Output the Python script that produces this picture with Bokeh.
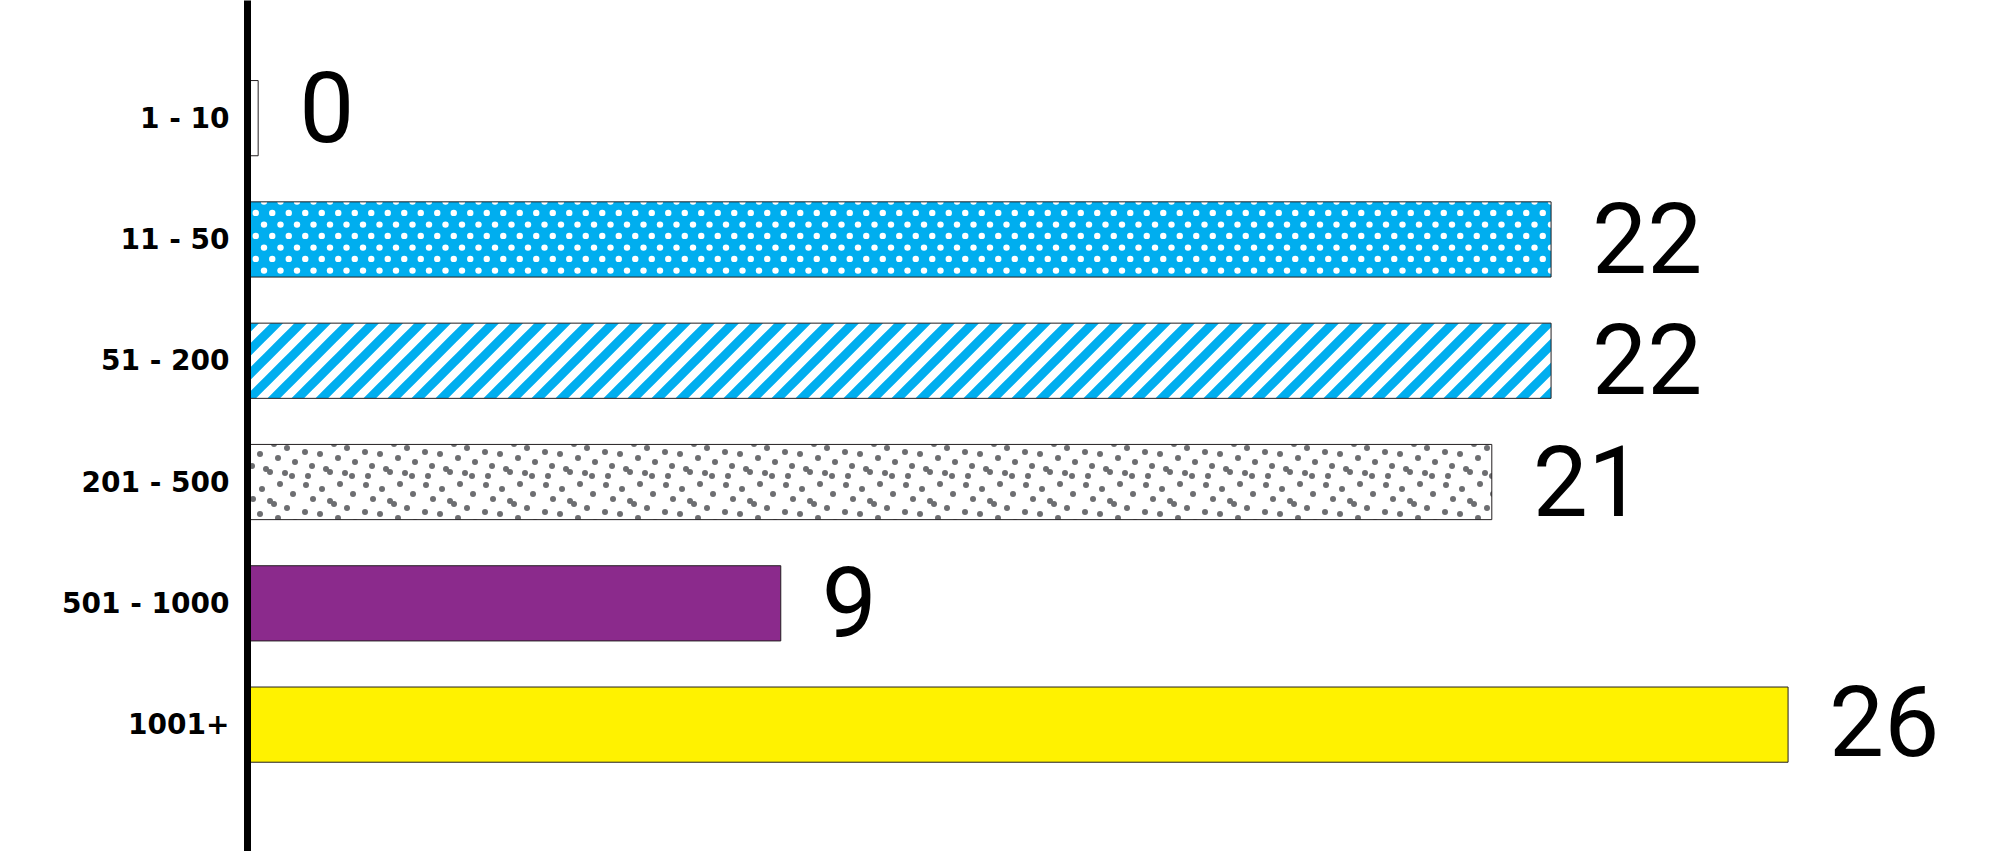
import base64
from bokeh.plotting import figure
from bokeh.models import Range1d, FixedTicker, ColumnDataSource, ImageURLTexture
from bokeh.core.properties import value
from bokeh.embed import file_html
from bokeh.resources import INLINE

# ---- data ----
categories = ["1 - 10", "11 - 50", "51 - 200", "201 - 500", "501 - 1000", "1001+"]
counts = [0, 22, 22, 21, 9, 26]

# ---- styles ----
fill_colors = ["#ffffff", "#00aeef", "#ffffff", "#ffffff", "#8b2a8c", "#fff200"]
hatch_patterns = [" ", "staggered_dots", "diag45", "scatter_dots", " ", " "]
label_y_offsets = [-12, -2, -2, -2, -2, -4]
MIN_VISIBLE = 0.18  # a zero bar is still drawn as a thin empty box


def svg_tile(w, h, body):
    svg = (f'<svg xmlns="http://www.w3.org/2000/svg" width="{w}" height="{h}" '
           f'viewBox="0 0 {w} {h}">{body}</svg>')
    return "data:image/svg+xml;base64," + base64.b64encode(svg.encode()).decode()


# texture tiles (styling only)
stripe_tile = svg_tile(24, 24,
    '<path d="M24,-24 L-24,24 M48,-24 L-24,48 M72,-24 L-24,72" '
    'stroke="#00aeef" stroke-width="9" fill="none"/>')
stag_dots = [(8.25, 5.9), (24.75, 5.9), (0, 17.6), (16.5, 17.6), (33, 17.6)]
stag_tile = svg_tile(33, 23.4, "".join(
    f'<circle cx="{x}" cy="{y}" r="3.2" fill="#ffffff"/>' for x, y in stag_dots))
scatter_dots = [(6, 5), (22, 9), (40, 4), (53, 14), (13, 19), (30, 21), (34, 24),
                (47, 28), (5, 32), (20, 34), (38, 38), (55, 42), (12, 46), (26, 49),
                (30, 52), (45, 53), (52, 56), (8, 56)]
scatter_tile = svg_tile(60, 60, "".join(
    f'<circle cx="{x}" cy="{y}" r="3" fill="#6d6e71"/>' for x, y in scatter_dots))

textures = {
    "staggered_dots": ImageURLTexture(url=stag_tile, repetition="repeat"),
    "diag45": ImageURLTexture(url=stripe_tile, repetition="repeat"),
    "scatter_dots": ImageURLTexture(url=scatter_tile, repetition="repeat"),
}

positions = list(range(len(categories)))
shown = [max(c, MIN_VISIBLE) for c in counts]

src = ColumnDataSource(dict(
    y=positions, right=shown, count=[str(c) for c in counts],
    fill=fill_colors, hp=hatch_patterns, yo=label_y_offsets,
))

W, H = 1992, 851
p = figure(width=W, height=H, output_backend="svg", toolbar_location=None,
           x_range=Range1d(0, 29.45), y_range=Range1d(6.046, -0.970),
           x_axis_location=None, min_border_left=247, min_border_right=0,
           min_border_top=0, min_border_bottom=0)
p.outline_line_color = None
p.xgrid.visible = False
p.ygrid.visible = False
p.background_fill_color = "white"
p.border_fill_color = "white"

p.hbar(y="y", left=0, right="right", height=0.62, source=src,
       fill_color="fill", line_color="#231f20", line_width=1,
       hatch_pattern="hp", hatch_extra=textures)

p.text(x="right", y="y", text="count", source=src, x_offset=41, y_offset="yo",
       text_font=value("Roboto"), text_font_size="98px",
       text_baseline="middle", text_align="left", text_color="#000000")

ax = p.yaxis[0]
ax.ticker = FixedTicker(ticks=positions)
ax.major_label_overrides = {i: c for i, c in zip(positions, categories)}
ax.axis_line_width = 7
ax.axis_line_color = "#000000"
ax.major_tick_line_color = None
ax.minor_tick_line_color = None
ax.major_label_standoff = 12
ax.major_label_text_font = "DejaVu Sans"
ax.major_label_text_font_style = "bold"
ax.major_label_text_font_size = "28px"
ax.major_label_text_color = "#000000"

open("out.html", "w").write(file_html(p, INLINE))
